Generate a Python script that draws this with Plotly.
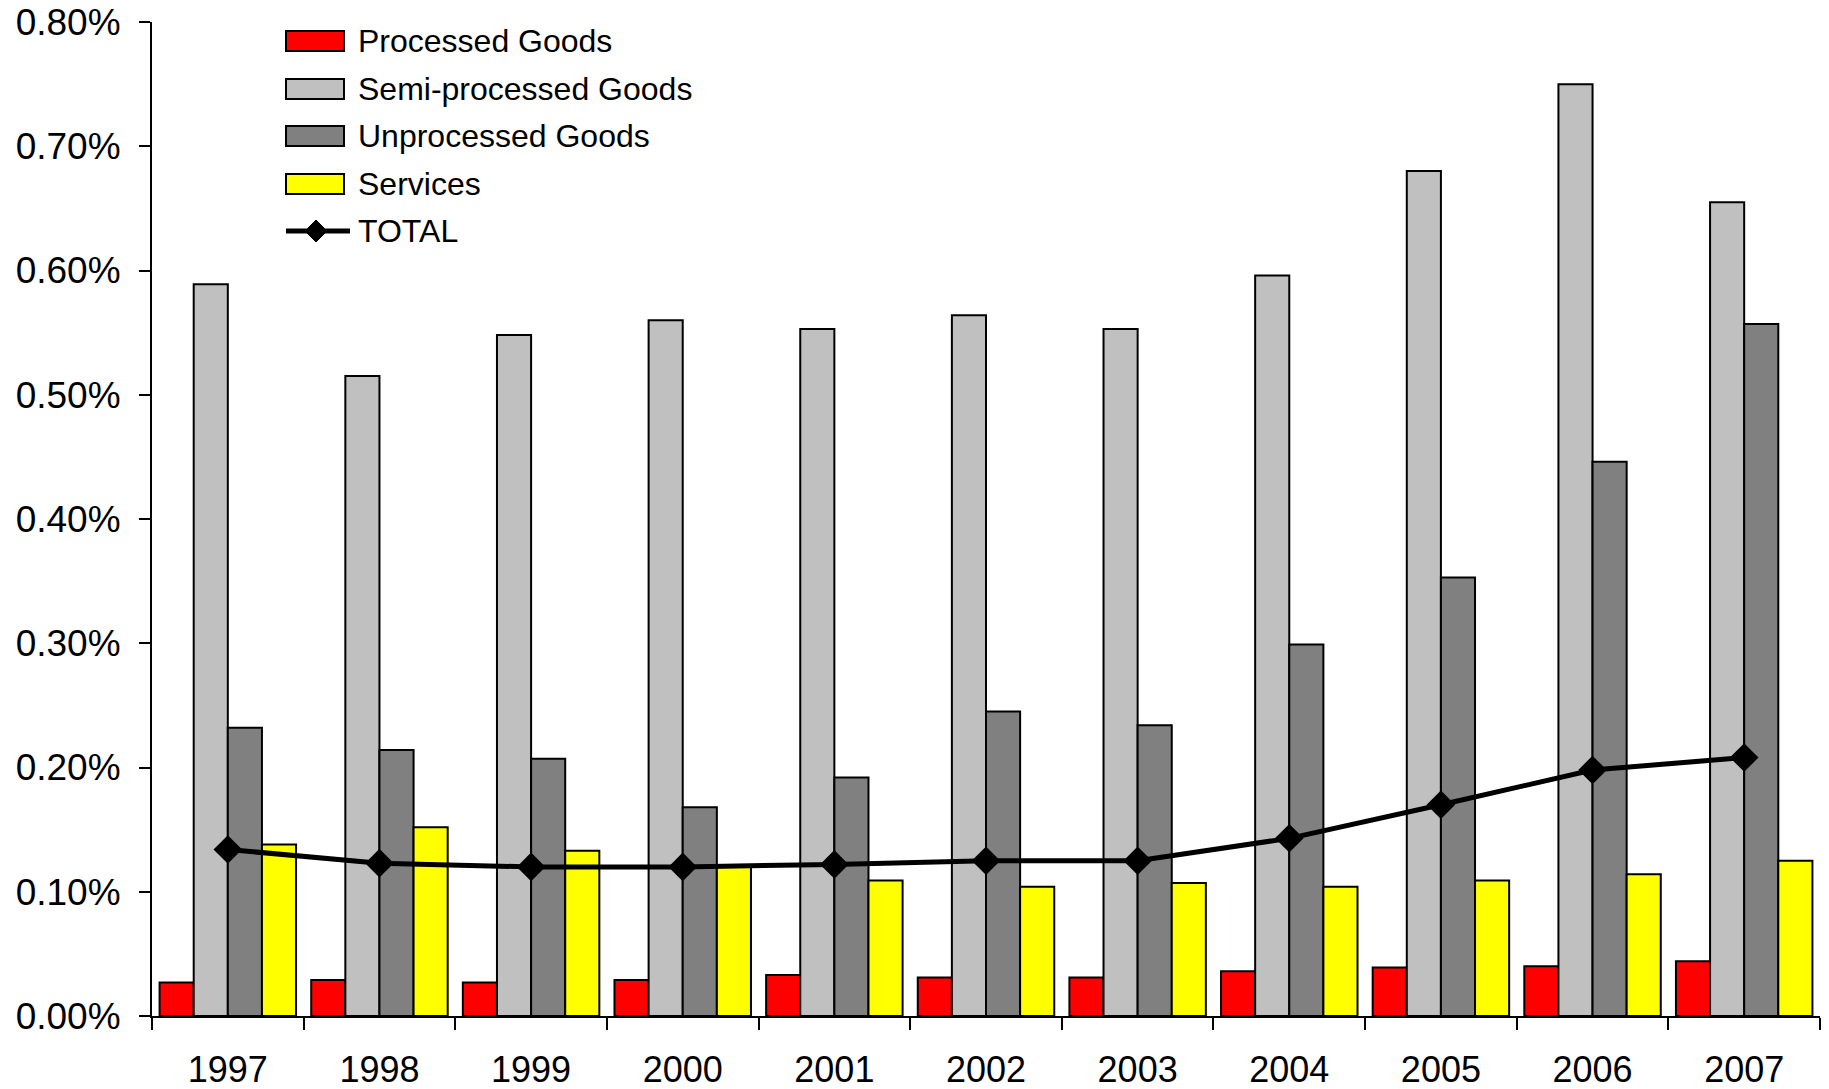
import plotly.graph_objects as go

years = ["1997", "1998", "1999", "2000", "2001", "2002", "2003", "2004", "2005", "2006", "2007"]
processed = [0.027, 0.029, 0.027, 0.029, 0.033, 0.031, 0.031, 0.036, 0.039, 0.040, 0.044]
semi = [0.589, 0.515, 0.548, 0.560, 0.553, 0.564, 0.553, 0.596, 0.680, 0.750, 0.655]
unprocessed = [0.232, 0.214, 0.207, 0.168, 0.192, 0.245, 0.234, 0.299, 0.353, 0.446, 0.557]
services = [0.138, 0.152, 0.133, 0.120, 0.109, 0.104, 0.107, 0.104, 0.109, 0.114, 0.125]
total = [0.134, 0.123, 0.120, 0.120, 0.122, 0.125, 0.125, 0.143, 0.170, 0.198, 0.208]

def frac(v):
    return [x / 100 for x in v]

FONT = "Liberation Sans, Arial, sans-serif"
W, H = 1829, 1089
ML, MR, MT, MB = 152, 9, 22, 73
PW, PH = W - ML - MR, H - MT - MB

fig = go.Figure()
bar_specs = [
    ("Processed Goods", processed, "#FF0000"),
    ("Semi-processed Goods", semi, "#C0C0C0"),
    ("Unprocessed Goods", unprocessed, "#808080"),
    ("Services", services, "#FFFF00"),
]
for i, (name, vals, col) in enumerate(bar_specs):
    fig.add_trace(go.Bar(
        x=years, y=frac(vals), name=name, showlegend=False,
        marker=dict(color=col, line=dict(color="black", width=2)),
    ))
fig.add_trace(go.Scatter(
    x=years, y=frac(total), name="TOTAL", showlegend=False,
    mode="lines+markers",
    line=dict(color="black", width=5),
    marker=dict(symbol="diamond", size=22, color="black"),
))

# custom legend (paper coordinates converted from pixel layout)
def px_x(p):
    return (p - ML) / PW

def px_y(p):
    return 1 - (p - MT) / PH

row_y = [41, 89, 136, 184, 231]
sw_l, sw_r, txt_x = 286, 344, 356
shapes = []
annotations = []
for i, (name, vals, col) in enumerate(bar_specs):
    cy = row_y[i]
    shapes.append(dict(
        type="rect", xref="paper", yref="paper",
        x0=px_x(sw_l), x1=px_x(sw_r), y0=px_y(cy + 10), y1=px_y(cy - 10),
        fillcolor=col, line=dict(color="black", width=2),
    ))
    annotations.append(dict(
        xref="paper", yref="paper", x=px_x(txt_x), y=px_y(cy),
        xanchor="left", yanchor="middle", text=name, showarrow=False,
        font=dict(family=FONT, size=32, color="black"),
    ))
cy = row_y[4]
shapes.append(dict(
    type="line", xref="paper", yref="paper",
    x0=px_x(sw_l), x1=px_x(sw_r + 6), y0=px_y(cy), y1=px_y(cy),
    line=dict(color="black", width=5),
))
shapes.append(dict(
    type="path", xref="paper", yref="paper",
    path=(f"M {px_x(316)} {px_y(cy - 11)} L {px_x(327)} {px_y(cy)} "
          f"L {px_x(316)} {px_y(cy + 11)} L {px_x(305)} {px_y(cy)} Z"),
    fillcolor="black", line=dict(color="black", width=1),
))
annotations.append(dict(
    xref="paper", yref="paper", x=px_x(txt_x), y=px_y(cy),
    xanchor="left", yanchor="middle", text="TOTAL", showarrow=False,
    font=dict(family=FONT, size=32, color="black"),
))

fig.update_layout(
    width=W, height=H,
    margin=dict(l=ML, r=MR, t=MT, b=MB),
    paper_bgcolor="white", plot_bgcolor="white",
    barmode="group", bargap=0.1, bargroupgap=0,
    font=dict(family=FONT, size=36, color="black"),
    showlegend=False,
    shapes=shapes, annotations=annotations,
    xaxis=dict(
        type="category", range=[-0.5, 10.5], automargin=False,
        showline=True, linecolor="black", linewidth=2,
        ticks="outside", tickson="boundaries", ticklen=12, tickwidth=1.5, tickcolor="black",
        ticklabelstandoff=21,
        tickfont=dict(family=FONT, size=36),
        showgrid=False, zeroline=False,
    ),
    yaxis=dict(
        range=[0, 0.008], tickvals=[i * 0.001 for i in range(9)], tickformat=".2%",
        automargin=False,
        showline=True, linecolor="black", linewidth=2,
        ticks="outside", ticklen=11, tickwidth=1.5, tickcolor="black",
        ticklabelstandoff=11,
        tickfont=dict(family=FONT, size=37),
        showgrid=False, zeroline=False,
    ),
)

fig.write_html("out.html")
